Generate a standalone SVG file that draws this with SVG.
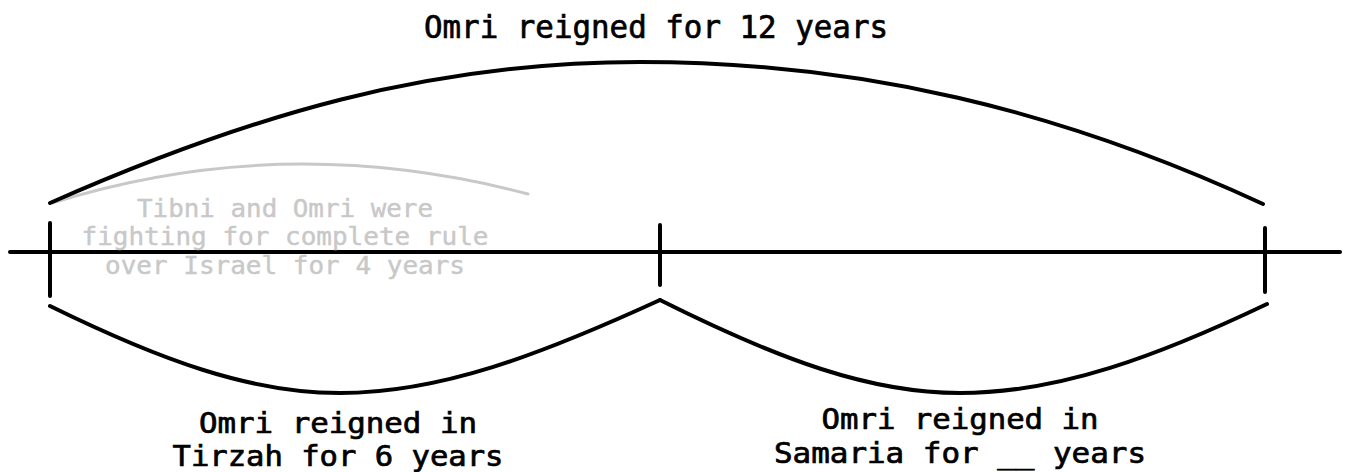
<svg xmlns="http://www.w3.org/2000/svg" width="1346" height="472" viewBox="0 0 1346 472">
<style>
.ln{fill:none;stroke:#000;stroke-width:4;stroke-linecap:round;stroke-linejoin:round}
.gl{fill:none;stroke:#c8c8c8;stroke-width:3;stroke-linecap:round}
.t{font-family:"DejaVu Sans Mono","Liberation Mono",monospace;font-size:32px;fill:#000;stroke:#000;stroke-width:0.7px;text-anchor:middle}
.b{font-size:28px}
.g{font-family:"DejaVu Sans Mono","Liberation Mono",monospace;font-size:24px;fill:#c8c8c8;stroke:#c8c8c8;stroke-width:0.4px;text-anchor:middle}
</style>
<rect width="1346" height="472" fill="#fff"/>
<g id="connectors">
<line class="ln" x1="10" y1="252" x2="1340" y2="252"/>
<line class="ln" x1="50" y1="223" x2="50" y2="296"/>
<line class="ln" x1="660" y1="225" x2="660" y2="285"/>
<line class="ln" x1="1265" y1="228" x2="1265" y2="292"/>
<path class="gl" d="M52 203 Q 285 130 528 194"/>
<path class="ln" d="M50 203 C 250 115 430 62 640 62 C 860 62 1060 110 1263 204"/>
<path class="ln" d="M50 306 C 160 360 250 393 340 393 C 440 393 540 355 660 300"/>
<path class="ln" d="M660 300 C 780 360 870 393 960 393 C 1060 393 1160 355 1267 304"/>
</g>
<g id="title"><text class="t" x="656" y="38" textLength="464" lengthAdjust="spacingAndGlyphs">Omri reigned for 12 years</text></g>
<g id="fighting">
<text class="g" x="285" y="217" textLength="296" lengthAdjust="spacingAndGlyphs">Tibni and Omri were</text>
<text class="g" x="285" y="245" textLength="407" lengthAdjust="spacingAndGlyphs">fighting for complete rule</text>
<text class="g" x="285" y="274" textLength="360" lengthAdjust="spacingAndGlyphs">over Israel for 4 years</text>
</g>
<g id="tirzah">
<text class="t b" x="338" y="433" textLength="278" lengthAdjust="spacingAndGlyphs">Omri reigned in</text>
<text class="t b" x="338" y="466" textLength="331" lengthAdjust="spacingAndGlyphs">Tirzah for 6 years</text>
</g>
<g id="samaria">
<text class="t b" x="960" y="429" textLength="277" lengthAdjust="spacingAndGlyphs">Omri reigned in</text>
<text class="t b" x="960" y="463" textLength="372" lengthAdjust="spacingAndGlyphs">Samaria for __ years</text>
</g>
</svg>
